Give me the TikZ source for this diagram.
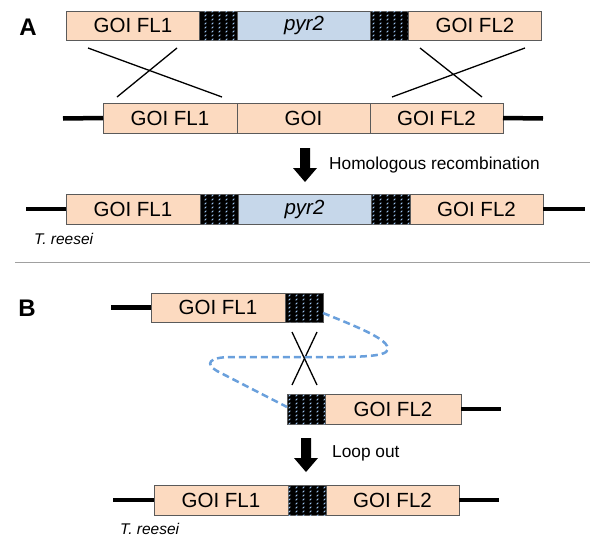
\documentclass[tikz,border=0pt]{standalone}
\usepackage{fontspec}
\setmainfont{Liberation Sans}
\usetikzlibrary{patterns}
\definecolor{peach}{HTML}{FCDAC0}
\definecolor{pyrblue}{HTML}{C6D7EA}
\definecolor{boxgray}{HTML}{5A5A5A}
\definecolor{dashblue}{HTML}{9CC4F0}
\definecolor{loopblue}{HTML}{6AA0DC}
\definecolor{sepgray}{HTML}{A0A0A0}
\pgfdeclarepatternformonly{bluedash}{\pgfqpoint{-1pt}{-1pt}}{\pgfqpoint{8pt}{5pt}}{\pgfqpoint{7pt}{4pt}}{%
  \pgfsetlinewidth{0.9pt}%
  \pgfpathmoveto{\pgfqpoint{1.6pt}{0.7pt}}%
  \pgfpathlineto{\pgfqpoint{3.4pt}{2.3pt}}%
  \pgfusepath{stroke}%
}
\tikzset{
  seg/.style={draw=boxgray, line width=0.8pt, inner sep=0pt, outer sep=0pt,
    minimum height=30pt, font=\fontsize{20.5}{24}\selectfont},
  fl/.style={seg, fill=peach},
  pyr/.style={seg, fill=pyrblue, font=\fontsize{20.5}{24}\selectfont\itshape},
  hatchbox/.style={seg, fill=black, postaction={pattern=bluedash, pattern color=dashblue}},
  chrom/.style={line width=4.5pt},
  crossline/.style={line width=1.3pt},
  looppath/.style={draw=loopblue, line width=2.5pt, dash pattern=on 7pt off 4pt},
  lbl/.style={font=\fontsize{24}{28}\selectfont\bfseries},
  note/.style={font=\fontsize{17.3}{20}\selectfont, anchor=west, inner sep=0pt},
  species/.style={font=\fontsize{15.5}{18}\selectfont\itshape, anchor=west, inner sep=0pt},
  blockarrow/.style={fill=black}
}
\begin{document}
\begin{tikzpicture}[x=1pt, y=-1pt]
\useasboundingbox (0,0) rectangle (600,549);

% ---- Panel A ----
\node[lbl] (A) at (28,27) {A};

% Row 1: construct
\node[fl, minimum width=133pt, minimum height=29pt] (r1a) at (133,25.5) {GOI FL1};
\node[hatchbox, minimum width=38pt, minimum height=29pt] (r1h1) at (218.5,25.5) {};
\node[pyr, minimum width=133pt, minimum height=29pt] (r1p) at (304,25.5) {pyr2};
\node[hatchbox, minimum width=38pt, minimum height=29pt] (r1h2) at (389.5,25.5) {};
\node[fl, minimum width=133pt, minimum height=29pt] (r1b) at (475,25.5) {GOI FL2};

% Row 2: genome locus
\coordinate (r2l) at (63,118.5);
\coordinate (r2r) at (543,118.5);
\node[fl, minimum width=134pt] (r2a) at (170,118) {GOI FL1};
\node[fl, minimum width=133pt] (r2g) at (303.5,118) {GOI};
\node[fl, minimum width=133pt] (r2b) at (436.5,118) {GOI FL2};
\draw[chrom] (r2l) -- (r2a.west);
\draw[chrom] (r2b.east) -- (r2r);

% crossovers
\coordinate (x1a) at (88,48);  \coordinate (x1b) at (222,97);
\coordinate (x2a) at (177,48); \coordinate (x2b) at (117,97);
\coordinate (x3a) at (420,48); \coordinate (x3b) at (482,97);
\coordinate (x4a) at (525,48); \coordinate (x4b) at (392,97);
\draw[crossline] (x1a) -- (x1b);
\draw[crossline] (x2a) -- (x2b);
\draw[crossline] (x3a) -- (x3b);
\draw[crossline] (x4a) -- (x4b);

% arrow 1
\fill[blockarrow] (300,148) -- (310,148) -- (310,168) -- (317,168) -- (305,182)
  -- (293,168) -- (300,168) -- cycle;
\node[note] (hr) at (329,165) {Homologous recombination};

% Row 3: result
\coordinate (r3l) at (26,209);
\coordinate (r3r) at (585,209);
\node[fl, minimum width=134pt] (r3a) at (133,209) {GOI FL1};
\node[hatchbox, minimum width=38pt] (r3h1) at (219,209) {};
\node[pyr, minimum width=133pt] (r3p) at (304.5,209) {pyr2};
\node[hatchbox, minimum width=39pt] (r3h2) at (390.5,209) {};
\node[fl, minimum width=133pt] (r3b) at (476.5,209) {GOI FL2};
\draw[chrom] (r3l) -- (r3a.west);
\draw[chrom] (r3b.east) -- (r3r);
\node[species] (tr1) at (34,239) {T. reesei};

% separator
\draw[sepgray, line width=1pt] (15,262) -- (590,262);

% ---- Panel B ----
\node[lbl] (B) at (27,308) {B};

% B row 1
\coordinate (b1l) at (111,307.5);
\node[fl, minimum width=134pt, minimum height=29pt] (b1a) at (218,307.5) {GOI FL1};
\node[hatchbox, minimum width=38pt, minimum height=29pt] (b1h) at (304,307.5) {};
\draw[chrom] (b1l) -- (b1a.west);

% B row 2
\coordinate (b2r) at (501,409);
\node[hatchbox, minimum width=38pt] (b2h) at (306,409) {};
\node[fl, minimum width=136pt] (b2a) at (393,409) {GOI FL2};
\draw[chrom] (b2a.east) -- (b2r);

% B crossover
\coordinate (bxa) at (292,332); \coordinate (bxb) at (317,385);
\coordinate (bxc) at (317,332); \coordinate (bxd) at (292,385);
\draw[crossline] (bxa) -- (bxb);
\draw[crossline] (bxc) -- (bxd);

% loop
\coordinate (ls) at (323,313);
\coordinate (le) at (287,407);
\draw[looppath] (ls) .. controls (360,328) and (396,342) .. (386,352)
  .. controls (378,358) and (340,357) .. (300,357) -- (232,357)
  .. controls (208,357) and (205,364) .. (217,371) -- (le);

% arrow 2
\fill[blockarrow] (301,438) -- (311,438) -- (311,458) -- (318,458) -- (306,472)
  -- (294,458) -- (301,458) -- cycle;
\node[note] (lo) at (332,453) {Loop out};

% B row 3
\coordinate (b3l) at (113,500);
\coordinate (b3r) at (499,500);
\node[fl, minimum width=134pt] (b3a) at (221,500) {GOI FL1};
\node[hatchbox, minimum width=38pt] (b3h) at (307,500) {};
\node[fl, minimum width=133pt] (b3b) at (392.5,500) {GOI FL2};
\draw[chrom] (b3l) -- (b3a.west);
\draw[chrom] (b3b.east) -- (b3r);
\node[species] (tr2) at (120,529) {T. reesei};
\end{tikzpicture}
\end{document}
